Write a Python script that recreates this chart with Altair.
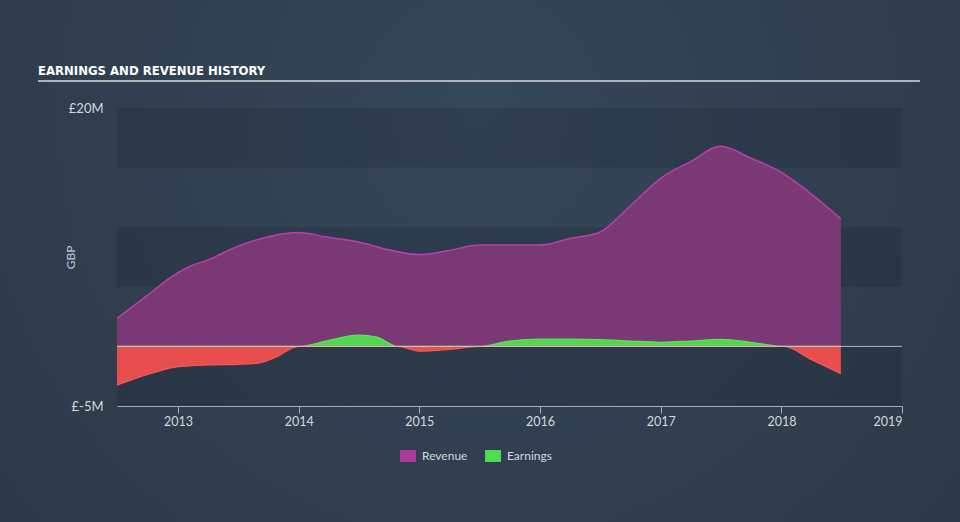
import altair as alt
import pandas as pd

TITLE = "EARNINGS AND REVENUE HISTORY"
Y_TITLE = "GBP"

rev_dates = ["2012-06-30", "2012-10-01", "2012-12-15", "2013-02-05", "2013-04-01",
             "2013-07-01", "2013-10-01", "2014-01-01", "2014-04-01", "2014-07-01",
             "2014-10-01", "2015-01-01", "2015-04-01", "2015-07-01", "2015-10-01",
             "2016-01-01", "2016-04-01", "2016-07-01", "2016-10-01", "2017-01-01",
             "2017-04-01", "2017-07-01", "2017-10-01", "2018-01-01", "2018-04-01",
             "2018-06-30"]
rev_values = [2.35, 4.3, 5.9, 6.7, 7.25,
              8.4, 9.2, 9.55, 9.15, 8.75,
              8.1, 7.7, 8.05, 8.5, 8.5,
              8.5, 9.05, 9.6, 11.8, 14.1,
              15.5, 16.8, 15.8, 14.6, 12.8,
              10.7]

earn_dates = ["2012-06-30", "2012-10-01", "2013-01-01", "2013-04-01", "2013-07-01",
              "2013-09-01", "2013-10-20", "2014-01-01", "2014-04-01", "2014-07-01",
              "2014-08-25", "2014-10-27", "2015-01-01", "2015-04-01", "2015-07-01",
              "2015-10-01", "2016-01-01", "2016-04-01", "2016-07-01", "2016-10-01",
              "2017-01-01", "2017-04-01", "2017-07-01", "2017-10-01", "2018-01-10",
              "2018-04-01", "2018-06-30"]
earn_values = [-3.25, -2.35, -1.7, -1.55, -1.5,
               -1.4, -0.95, 0.0, 0.5, 0.95,
               0.78, 0.0, -0.4, -0.25, 0.0,
               0.45, 0.62, 0.62, 0.58, 0.45,
               0.35, 0.45, 0.6, 0.35, 0.0,
               -1.1, -2.3]

y_ticks = [-5, 20]
x_years = [2013, 2014, 2015, 2016, 2017, 2018, 2019]
band_lo = [15, 5, -5]
band_hi = [20, 10, 0]
legend_names = ["Revenue", "Earnings"]
legend_colors = ["#a83a98", "#4fdc4f"]

rev_df = pd.DataFrame({"date": rev_dates, "value": rev_values})
earn_df = pd.DataFrame({"date": earn_dates, "value": earn_values})
band_df = pd.DataFrame({"lo": band_lo, "hi": band_hi,
                        "x0": ["2012-06-30"] * 3, "x1": ["2019-01-01"] * 3})
zero_df = pd.DataFrame({"zero": [0]})
legend_df = pd.DataFrame({"name": legend_names})

FONT = "Lato"
LABEL_COLOR = "#d3d8dd"

xscale = alt.Scale(type="utc", domain=[alt.DateTime(year=2012, month=6, date=30, utc=True),
                                       alt.DateTime(year=2019, month=1, date=1, utc=True)])
xaxis = alt.Axis(values=[alt.DateTime(year=y, month=1, date=1, utc=True) for y in x_years],
                 format="%Y", grid=False, domainColor="#a3aebb", tickColor="#a3aebb",
                 tickSize=7, labelColor=LABEL_COLOR, labelFontSize=12.5, labelFont=FONT,
                 labelPadding=2, title=None, zindex=1)
yscale = alt.Scale(domain=[-5, 20], nice=False, zero=False)
yaxis = alt.Axis(values=y_ticks, labelExpr="'£' + datum.value + 'M'", grid=False,
                 domain=False, ticks=False, labelPadding=14, labelColor=LABEL_COLOR,
                 labelFontSize=13, labelFont=FONT, title=Y_TITLE, titleColor="#c3c9cf",
                 titleFont=FONT, titleFontSize=12, titleFontWeight="normal",
                 titleX=-47, titleY=149, titleAngle=-90, titleAlign="center",
                 titleBaseline="middle", zindex=1)


def X(field):
    return alt.X(field, type="temporal", scale=xscale, axis=xaxis, title=None)


def Y(field):
    return alt.Y(field, type="quantitative", scale=yscale, axis=yaxis, title=Y_TITLE)


background = alt.Chart(alt.Data(values=[{}])).mark_rect(
    fill=alt.RadialGradient(gradient="radial", x1=0.5, y1=0.35, x2=0.5, y2=0.35, r1=0, r2=0.75,
                            stops=[alt.GradientStop(offset=0, color="#36475a"),
                                   alt.GradientStop(offset=1, color="#2b3744")])
).encode(x=alt.value(-117), x2=alt.value(843), y=alt.value(-108), y2=alt.value(414))

bands = alt.Chart(band_df).mark_rect(color="#18222c", opacity=0.22).encode(
    x=X("x0"), x2="x1", y=Y("lo"), y2="hi")

revenue = alt.Chart(rev_df).mark_area(
    interpolate="monotone", color="#7a3874", opacity=1,
    line={"color": "#bb3fa8", "strokeWidth": 1.5}
).encode(x=X("date"), y=Y("value"))

earn_pos = alt.Chart(earn_df).transform_calculate(
    pos="max(datum.value, 0)").mark_area(
    interpolate="monotone", color="#4fd84f", opacity=1,
    line={"color": "#5ee35e", "strokeWidth": 1.2}
).encode(x=X("date"), y=Y("pos"))

earn_neg = alt.Chart(earn_df).transform_calculate(
    neg="min(datum.value, 0)").mark_area(
    interpolate="monotone", color="#e84e4e", opacity=1,
    line={"color": "#f25a5a", "strokeWidth": 1.2}
).encode(x=X("date"), y=Y("neg"))

zero_rule = alt.Chart(zero_df).mark_rule(color="#d4d4d4", strokeWidth=1, opacity=0.8).encode(
    y=Y("zero"))

title_text = alt.Chart(alt.Data(values=[{}])).mark_text(
    text=TITLE, font="DejaVu Sans Condensed", fontWeight="bold", fontSize=13,
    color="#ffffff", align="left", baseline="alphabetic"
).encode(x=alt.value(-79), y=alt.value(-33))

underline = alt.Chart(alt.Data(values=[{}])).mark_rule(color="#b0b5bb", strokeWidth=2).encode(
    x=alt.value(-79), x2=alt.value(803), y=alt.value(-27))

legend_layer = alt.Chart(legend_df).mark_point(filled=True, opacity=0).encode(
    color=alt.Color("name:N", scale=alt.Scale(domain=legend_names, range=legend_colors),
                    legend=alt.Legend(orient="none", legendX=283, legendY=340,
                                      direction="horizontal", title=None,
                                      symbolType="M-1,-0.75H1V0.75H-1Z", symbolSize=256,
                                      symbolOpacity=1, symbolStrokeWidth=0,
                                      labelColor=LABEL_COLOR, labelFontSize=12,
                                      labelFont=FONT, labelOffset=6, columnPadding=17))
)

chart = alt.layer(
    background, bands, revenue, earn_pos, earn_neg, zero_rule,
    title_text, underline, legend_layer
).properties(
    width=785, height=298,
    autosize=alt.AutoSizeParams(type="none"),
    padding={"left": 117, "top": 108, "right": 58, "bottom": 116},
    background="#2f3c4a"
).configure_view(stroke=None)

chart.save("out.html", embed_options={"renderer": "svg", "actions": False})
